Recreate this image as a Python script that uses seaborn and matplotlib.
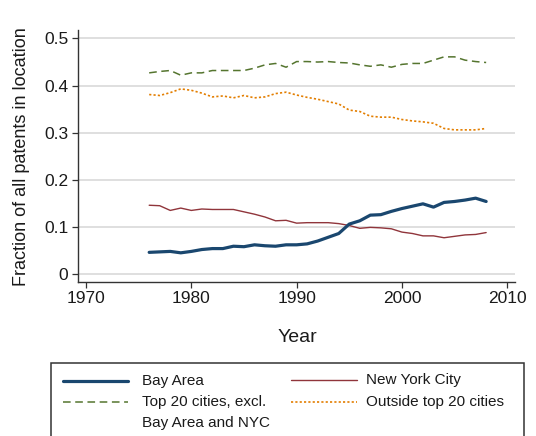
import pandas as pd
import seaborn as sns
import matplotlib.pyplot as plt
from matplotlib.lines import Line2D
from matplotlib.patches import Rectangle

# Datos
years = list(range(1976, 2009))
bay_area = [0.046, 0.047, 0.048, 0.045, 0.048, 0.052, 0.054, 0.054, 0.059, 0.058,
            0.062, 0.060, 0.059, 0.062, 0.062, 0.064, 0.070, 0.078, 0.086, 0.106,
            0.113, 0.125, 0.126, 0.133, 0.139, 0.144, 0.149, 0.142, 0.152, 0.154,
            0.157, 0.161, 0.154]
nyc = [0.146, 0.145, 0.135, 0.140, 0.135, 0.138, 0.137, 0.137, 0.137, 0.132,
       0.127, 0.121, 0.113, 0.114, 0.108, 0.109, 0.109, 0.109, 0.107, 0.103,
       0.097, 0.099, 0.098, 0.096, 0.089, 0.086, 0.081, 0.081, 0.077, 0.080,
       0.083, 0.084, 0.088]
top20 = [0.427, 0.430, 0.432, 0.422, 0.427, 0.427, 0.432, 0.432, 0.432, 0.432,
         0.437, 0.444, 0.447, 0.439, 0.451, 0.451, 0.450, 0.451, 0.449, 0.448,
         0.444, 0.441, 0.444, 0.439, 0.445, 0.447, 0.447, 0.454, 0.461, 0.461,
         0.454, 0.451, 0.449]
outside = [0.381, 0.379, 0.385, 0.393, 0.390, 0.384, 0.376, 0.378, 0.374, 0.379,
           0.374, 0.376, 0.383, 0.386, 0.380, 0.375, 0.371, 0.366, 0.361, 0.348,
           0.345, 0.335, 0.333, 0.333, 0.328, 0.325, 0.323, 0.320, 0.309, 0.306,
           0.306, 0.306, 0.309]

df = pd.DataFrame({"Year": years, "Bay Area": bay_area, "New York City": nyc,
                   "Top 20": top20, "Outside": outside})

navy = "#1a476f"
maroon = "#90353b"
green = "#55752f"
orange = "#e37e00"

sns.set_style("white")
plt.rcParams["font.family"] = ["Liberation Sans", "DejaVu Sans"]

W, H = 536, 436
fig = plt.figure(figsize=(W / 100, H / 100), dpi=100)
ax = fig.add_axes([78 / W, 1 - 406 / H, (515 - 78) / W, (406 - 281.7) / H + 0.0001])
ax.set_position([78 / W, (H - 281.7) / H, (515 - 78) / W, (281.7 - 30) / H])

sns.lineplot(data=df, x="Year", y="Top 20", ax=ax, color=green, lw=1.1,
             dashes=False, zorder=3).lines[-1].set_dashes((5, 3))
sns.lineplot(data=df, x="Year", y="Outside", ax=ax, color=orange, lw=1.2,
             zorder=3).lines[-1].set_dashes((1.3, 1.3))
sns.lineplot(data=df, x="Year", y="New York City", ax=ax, color=maroon, lw=1.0, zorder=3)
sns.lineplot(data=df, x="Year", y="Bay Area", ax=ax, color=navy, lw=2.3, zorder=4)

ax.set_xlim(1969.24, 2010.74)
ax.set_ylim(-0.0163, 0.518)
ax.set_xticks([1970, 1980, 1990, 2000, 2010])
ax.set_yticks([0, 0.1, 0.2, 0.3, 0.4, 0.5])
ax.set_yticklabels(["0", "0.1", "0.2", "0.3", "0.4", "0.5"])
ax.yaxis.grid(True, color="#d9d9d9", lw=1.2)
ax.set_axisbelow(True)
for s in ["top", "right"]:
    ax.spines[s].set_visible(False)
for s in ["left", "bottom"]:
    ax.spines[s].set_color("#333333")
    ax.spines[s].set_linewidth(1.0)
ax.tick_params(axis="both", direction="out", length=4, width=0.9, color="#333333",
               labelsize=12.5, labelcolor="#1a1a1a", pad=3, left=True, bottom=True)

ax.set_xlabel("Year", fontsize=14, color="#1a1a1a")
ax.set_ylabel("Fraction of all patents in location", fontsize=13, color="#1a1a1a")
ax.xaxis.set_label_coords(0.501, (H - 337 - (H - 281.7)) / (281.7 - 30))
ax.xaxis.label.set_va("center")
ax.yaxis.set_label_coords((22 - 78) / (515 - 78), 0.495)
ax.yaxis.label.set_va("center")

# Leyenda (estilo Stata)
def fx(px):
    return px / W

def fy(py):
    return 1 - py / H

fig.add_artist(Rectangle((fx(51), fy(445)), fx(524) - fx(51), fy(363) - fy(445),
                         fill=False, ec="#333333", lw=1.1, transform=fig.transFigure))
handles = [
    (63, 128, 381, navy, 2.3, None, "Bay Area", 141.7),
    (63, 128, 401.7, green, 1.1, (5, 3), "Top 20 cities, excl.", 141.7),
    (291, 357, 380, maroon, 1.0, None, "New York City", 365.7),
    (291, 357, 401.7, orange, 1.2, (1.3, 1.3), "Outside top 20 cities", 365.7),
]
for x0, x1, yy, c, lw, dash, label, tx in handles:
    ln = Line2D([fx(x0), fx(x1)], [fy(yy), fy(yy)], color=c, lw=lw,
                transform=fig.transFigure)
    if dash:
        ln.set_dashes(dash)
    fig.add_artist(ln)
    fig.text(fx(tx), fy(yy), label, fontsize=11, va="center", ha="left", color="#1a1a1a")
fig.text(fx(141.7), fy(422.7), "Bay Area and NYC", fontsize=11, va="center",
         ha="left", color="#1a1a1a")

fig.savefig("out.png", dpi=100)
